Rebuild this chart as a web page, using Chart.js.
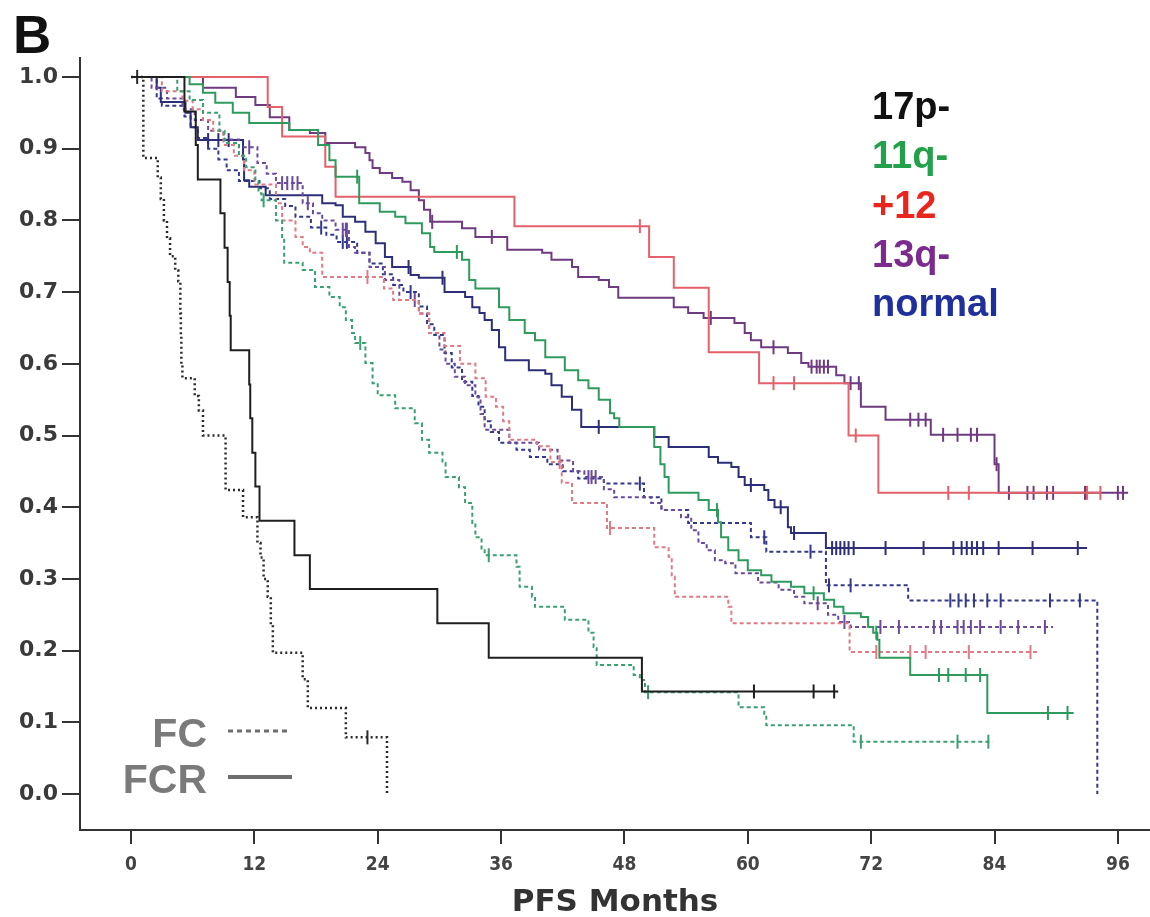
<!DOCTYPE html>
<html lang="en">
<head>
<meta charset="UTF-8">
<title>PFS months by cytogenetic group, FC vs FCR</title>
<script src="https://cdn.jsdelivr.net/npm/chart.js@4"></script>
<style>
  html, body { margin: 0; padding: 0; background: #fff; }
  #wrap { width: 1150px; height: 917px; }
</style>
</head>
<body>
<div id="wrap"><canvas id="km" width="1150" height="917"></canvas></div>
<script>
// axis ticks
const monthTicks = [0, 12, 24, 36, 48, 60, 72, 84, 96];
const survTicks = [0.0, 0.1, 0.2, 0.3, 0.4, 0.5, 0.6, 0.7, 0.8, 0.9, 1.0];

// group key (top right)
const groupNames = ['17p-', '11q-', '+12', '13q-', 'normal'];
const groupTextColors = ['#111111', '#22a04b', '#e8261e', '#7b2a8e', '#1f2f9c'];

// Kaplan-Meier steps: [month, survival after the drop]; censor months
const fc17p = [[0,1],[1.2,0.887],[2.6,0.86],[2.9,0.83],[3.2,0.80],[3.5,0.775],[3.8,0.75],[4.3,0.73],[4.6,0.715],[4.8,0.67],[4.85,0.64],[4.9,0.60],[5.0,0.58],[6.2,0.555],[6.6,0.535],[7.0,0.50],[9.2,0.424],[10.9,0.386],[12.3,0.35],[12.6,0.33],[12.9,0.30],[13.3,0.275],[13.6,0.236],[13.8,0.197],[16.7,0.16],[17.2,0.12],[20.9,0.079],[24.9,0.0]];
const fc17pCens = [0.6, 23.0];

const fcr17p = [[0,1],[5.2,0.952],[6.3,0.905],[6.5,0.857],[8.7,0.81],[9.1,0.762],[9.4,0.714],[9.6,0.667],[9.7,0.619],[11.5,0.571],[11.6,0.524],[11.8,0.476],[12.1,0.429],[12.5,0.381],[15.9,0.333],[17.4,0.286],[29.8,0.238],[34.8,0.19],[49.7,0.143],[68.8,0.143]];
const fcr17pCens = [60.6, 66.4, 68.4];

const fc11q = [[0,1],[4.5,0.98],[5.7,0.968],[7.0,0.95],[8.6,0.925],[9.1,0.908],[10.5,0.89],[11.2,0.874],[12.1,0.855],[12.4,0.838],[12.7,0.828],[14.1,0.80],[14.7,0.773],[14.9,0.741],[16.7,0.731],[17.9,0.707],[19.3,0.693],[20.3,0.679],[20.9,0.661],[21.5,0.643],[21.8,0.629],[22.8,0.601],[23.5,0.573],[24.0,0.556],[25.7,0.538],[27.6,0.517],[28.3,0.494],[29.0,0.476],[30.3,0.462],[30.6,0.442],[31.9,0.428],[32.5,0.406],[33.2,0.378],[33.5,0.358],[34.1,0.34],[34.4,0.333],[37.5,0.317],[37.8,0.289],[39.0,0.275],[39.3,0.261],[42.2,0.243],[44.5,0.225],[45.0,0.205],[45.3,0.18],[48.9,0.166],[49.5,0.159],[50.0,0.142],[59.1,0.121],[61.6,0.11],[61.8,0.096],[70.3,0.073],[83.8,0.073]];
const fc11qCens = [12.9, 22.3, 34.8, 50.3, 71.0, 80.4, 83.4];

const fcr11q = [[0,1],[5.7,0.99],[7.0,0.978],[8.2,0.964],[9.9,0.95],[11.5,0.936],[15.4,0.926],[18.2,0.905],[19.3,0.884],[19.9,0.861],[22.2,0.824],[24.2,0.812],[25.7,0.805],[26.7,0.796],[28.3,0.782],[29.1,0.763],[29.5,0.756],[32.2,0.745],[32.9,0.717],[33.5,0.705],[35.8,0.679],[36.8,0.661],[38.3,0.643],[39.3,0.633],[40.3,0.609],[42.2,0.591],[43.5,0.577],[44.5,0.566],[45.5,0.55],[46.6,0.531],[47.0,0.524],[47.5,0.512],[50.9,0.484],[51.5,0.46],[51.9,0.442],[52.3,0.42],[55.2,0.41],[56.2,0.396],[57.1,0.379],[57.4,0.358],[58.1,0.34],[59.1,0.326],[60.0,0.312],[61.3,0.305],[62.3,0.296],[64.2,0.289],[65.5,0.28],[67.4,0.271],[68.4,0.261],[69.3,0.252],[71.0,0.247],[71.7,0.233],[72.2,0.225],[72.6,0.215],[72.8,0.19],[75.8,0.166],[83.3,0.113],[91.7,0.113]];
const fcr11qCens = [22.0, 31.7, 57.0, 66.4, 72.5, 78.6, 79.5, 81.2, 82.6, 89.2, 91.1];

const fcTri12 = [[0,1],[3,0.98],[5,0.967],[6,0.955],[7,0.94],[8,0.925],[9,0.905],[10,0.89],[11,0.87],[12,0.85],[14.1,0.824],[14.7,0.80],[16.0,0.777],[16.7,0.763],[17.4,0.755],[18.6,0.721],[24.6,0.705],[25.5,0.689],[28.0,0.67],[29.0,0.643],[30.5,0.625],[32.0,0.60],[33.5,0.58],[34.5,0.554],[35.5,0.54],[36.2,0.52],[36.8,0.494],[39.5,0.485],[40.8,0.463],[41.9,0.434],[42.9,0.406],[46.3,0.371],[50.9,0.344],[52.3,0.331],[52.6,0.303],[52.9,0.275],[58.1,0.261],[58.4,0.238],[69.9,0.198],[88.2,0.198]];
const fcTri12Cens = [23.0, 41.7, 46.6, 72.5, 75.8, 77.3, 81.5, 87.5];

const fcrTri12 = [[0,1],[13.3,0.958],[14.7,0.917],[18.9,0.875],[19.9,0.833],[37.3,0.792],[50.4,0.749],[52.8,0.706],[56.2,0.616],[61.1,0.573],[69.8,0.50],[72.7,0.42],[94.3,0.42]];
const fcrTri12Cens = [49.5, 62.5, 64.5, 70.5, 79.5, 81.5, 93.0, 94.3];

const fc13q = [[0,1],[2.0,0.985],[3.5,0.97],[5.0,0.955],[6.2,0.94],[7.5,0.925],[9.0,0.913],[10.5,0.902],[12.3,0.88],[13.2,0.865],[14.1,0.852],[16.7,0.824],[17.7,0.81],[18.6,0.80],[19.9,0.787],[21.2,0.763],[21.8,0.755],[23.2,0.735],[24.7,0.717],[26.1,0.689],[28.0,0.67],[29.0,0.643],[30.0,0.62],[30.6,0.60],[31.5,0.582],[32.5,0.57],[33.5,0.554],[34.0,0.53],[34.4,0.508],[36.8,0.49],[39.7,0.48],[41.5,0.465],[43.0,0.45],[44.1,0.442],[46.0,0.425],[47.0,0.414],[50.6,0.406],[51.6,0.396],[53.5,0.386],[54.5,0.368],[55.2,0.35],[56.0,0.34],[56.8,0.326],[57.8,0.322],[58.8,0.308],[61.0,0.295],[63.0,0.285],[64.5,0.275],[65.5,0.266],[67.8,0.25],[68.8,0.24],[70.0,0.233],[89.7,0.233]];
const fc13qCens = [11.5, 14.7, 15.2, 15.7, 16.2, 17.2, 20.6, 20.9, 21.0, 27.6, 44.5, 44.8, 45.2, 66.8, 69.4, 72.9, 74.7, 78.1, 78.8, 80.4, 81.0, 81.7, 82.6, 84.6, 86.3, 88.9];

const fcr13q = [[0,1],[7.0,0.985],[10.2,0.972],[12.1,0.961],[13.5,0.944],[15.4,0.926],[17.4,0.922],[18.9,0.908],[21.8,0.902],[22.8,0.894],[23.2,0.884],[23.5,0.873],[24.2,0.866],[25.4,0.859],[26.4,0.854],[27.2,0.842],[28.0,0.828],[28.5,0.815],[29.1,0.798],[32.2,0.789],[33.5,0.777],[36.6,0.759],[40.0,0.755],[40.9,0.745],[42.9,0.735],[43.5,0.721],[45.5,0.717],[46.5,0.707],[47.4,0.692],[52.8,0.679],[54.2,0.671],[55.7,0.664],[58.7,0.657],[59.7,0.643],[60.3,0.633],[61.3,0.623],[63.9,0.615],[65.2,0.601],[65.9,0.596],[68.6,0.584],[69.4,0.573],[71.0,0.54],[73.4,0.522],[77.8,0.501],[84.0,0.46],[84.4,0.42],[97.0,0.42]];
const fcr13qCens = [29.3, 35.1, 56.4, 62.5, 66.2, 66.7, 67.0, 67.4, 67.8, 70.0, 70.8, 75.8, 76.6, 77.3, 79.0, 80.4, 81.7, 82.3, 84.2, 85.4, 87.2, 87.8, 89.1, 89.7, 92.8, 96.0, 96.5];

const fcNormal = [[0,1],[2.5,0.97],[3.0,0.96],[5.2,0.945],[5.8,0.93],[6.5,0.915],[7.5,0.90],[8.5,0.885],[9.3,0.87],[10.5,0.855],[12.5,0.845],[13.5,0.83],[15.0,0.82],[16.0,0.805],[17.5,0.79],[19.0,0.78],[20.0,0.77],[22.0,0.755],[23.2,0.74],[24.5,0.725],[25.5,0.71],[26.5,0.70],[28.0,0.68],[28.8,0.655],[29.5,0.64],[30.5,0.615],[31.2,0.595],[32.2,0.575],[33.2,0.555],[33.8,0.54],[34.4,0.52],[35.0,0.505],[35.8,0.49],[37.5,0.48],[38.8,0.47],[40.5,0.46],[42.0,0.45],[43.5,0.44],[46.0,0.433],[49.9,0.414],[51.6,0.396],[54.2,0.378],[60.3,0.358],[61.8,0.338],[67.6,0.291],[75.6,0.27],[94.0,0.0]];
const fcNormalCens = [18.5, 20.6, 21.0, 27.2, 49.5, 61.6, 66.1, 67.9, 70.0, 79.7, 80.5, 81.2, 82.0, 83.3, 84.6, 89.4, 92.3];

const fcrNormal = [[0,1],[2.5,0.985],[2.9,0.965],[5.3,0.95],[5.8,0.93],[6.5,0.912],[10.9,0.885],[11.0,0.856],[11.5,0.847],[13.1,0.835],[18.6,0.824],[19.9,0.821],[20.6,0.805],[21.8,0.798],[22.8,0.784],[23.8,0.768],[24.7,0.749],[25.4,0.735],[27.2,0.724],[28.0,0.72],[30.5,0.70],[32.5,0.693],[33.2,0.679],[33.9,0.671],[34.4,0.661],[35.1,0.647],[35.8,0.623],[36.4,0.605],[38.7,0.591],[40.3,0.586],[40.9,0.57],[41.9,0.554],[42.9,0.536],[43.8,0.512],[50.9,0.498],[52.3,0.484],[56.2,0.47],[57.1,0.462],[58.4,0.456],[59.1,0.442],[59.7,0.431],[61.6,0.424],[62.0,0.41],[62.6,0.40],[63.9,0.372],[64.2,0.364],[67.6,0.343],[93.0,0.343]];
const fcrNormalCens = [7.5, 8.5, 9.5, 27.0, 30.3, 45.5, 60.3, 63.2, 64.5, 68.2, 68.6, 69.0, 69.4, 69.8, 70.3, 73.4, 77.1, 80.0, 80.8, 81.3, 81.8, 82.3, 82.9, 84.4, 87.7, 92.1];

// survival value in force at month t
function survAt(steps, t) {
  let s = steps[0][1];
  for (const p of steps) {
    if (p[0] <= t) s = p[1]; else break;
  }
  return s;
}

function curve(steps, color, dash, width) {
  return {
    data: steps.map(p => ({ x: p[0], y: p[1] })),
    showLine: true,
    stepped: 'before',
    borderColor: color,
    borderWidth: width,
    borderDash: dash,
    pointRadius: 0,
    fill: false
  };
}

function censorMarks(steps, cens, color) {
  return {
    data: cens.map(t => ({ x: t, y: survAt(steps, t) })),
    showLine: false,
    pointStyle: 'line',
    rotation: 90,
    pointRadius: 7,
    pointBorderWidth: 2,
    pointBorderColor: color,
    borderColor: color,
    backgroundColor: color
  };
}

const dotted = [2, 3];
const dashed = [4, 3];

const curves = [
  { steps: fcr17p, cens: fcr17pCens, color: '#1e1e1e', dash: [], width: 2 },
  { steps: fc17p, cens: fc17pCens, color: '#2a2a2a', dash: dotted, width: 2.5 },
  { steps: fcr11q, cens: fcr11qCens, color: '#2f9a5e', dash: [], width: 2 },
  { steps: fc11q, cens: fc11qCens, color: '#3aa070', dash: dashed, width: 2 },
  { steps: fcrTri12, cens: fcrTri12Cens, color: '#e4606a', dash: [], width: 2 },
  { steps: fcTri12, cens: fcTri12Cens, color: '#e07a85', dash: dashed, width: 2 },
  { steps: fcr13q, cens: fcr13qCens, color: '#6e3a80', dash: [], width: 2 },
  { steps: fc13q, cens: fc13qCens, color: '#6a4a9a', dash: dashed, width: 2 },
  { steps: fcrNormal, cens: fcrNormalCens, color: '#2c2f78', dash: [], width: 2 },
  { steps: fcNormal, cens: fcNormalCens, color: '#33388a', dash: dashed, width: 2 }
];

const datasets = [];
curves.forEach(c => {
  datasets.push(curve(c.steps, c.color, c.dash, c.width));
  datasets.push(censorMarks(c.steps, c.cens, c.color));
});

// text that sits inside the plot: panel letter, group key, regimen key
const extraText = {
  id: 'extraText',
  afterDraw(chart) {
    const ctx = chart.ctx;
    ctx.save();
    ctx.textBaseline = 'alphabetic';
    ctx.textAlign = 'left';
    ctx.fillStyle = '#111';
    ctx.font = 'bold 53px "Liberation Sans", Arial, sans-serif';
    ctx.fillText('B', 13, 53);

    ctx.font = 'bold 38px "Liberation Sans", Arial, sans-serif';
    groupNames.forEach((n, i) => {
      ctx.fillStyle = groupTextColors[i];
      ctx.fillText(n, 872, 119 + i * 49.3);
    });

    ctx.fillStyle = '#7a7a7a';
    ctx.textAlign = 'right';
    ctx.font = 'bold 41px "Liberation Sans", Arial, sans-serif';
    ctx.fillText('FC', 207, 747);
    ctx.fillText('FCR', 207, 793);

    ctx.strokeStyle = '#6e6e6e';
    ctx.lineWidth = 3;
    ctx.setLineDash([5, 4]);
    ctx.beginPath();
    ctx.moveTo(228, 731);
    ctx.lineTo(291, 731);
    ctx.stroke();
    ctx.setLineDash([]);
    ctx.lineWidth = 4;
    ctx.beginPath();
    ctx.moveTo(228, 777);
    ctx.lineTo(292, 777);
    ctx.stroke();
    ctx.restore();
  }
};

new Chart(document.getElementById('km'), {
  type: 'scatter',
  data: { datasets: datasets },
  options: {
    responsive: false,
    animation: false,
    devicePixelRatio: 1,
    layout: { autoPadding: false, padding: { top: 58, left: 0, right: 0, bottom: 0 } },
    plugins: { legend: { display: false }, tooltip: { enabled: false } },
    scales: {
      x: {
        type: 'linear',
        min: -4.961,
        max: 99.125,
        afterBuildTicks: s => { s.ticks = monthTicks.map(v => ({ value: v })); },
        afterFit: s => { s.height = 87; },
        grid: { drawOnChartArea: false, drawTicks: true, tickLength: 14, color: '#333', lineWidth: 2 },
        border: { display: true, color: '#333', width: 2 },
        ticks: {
          color: '#444',
          padding: 10,
          maxRotation: 0,
          font: { family: '"DejaVu Sans Condensed", "Liberation Sans Narrow", sans-serif', size: 19, weight: 'bold' }
        },
        title: {
          display: true,
          text: 'PFS Months',
          color: '#333',
          padding: { top: 0, bottom: 0 },
          font: { family: '"DejaVu Sans", sans-serif', size: 31, weight: 'bold', lineHeight: 0.9 }
        }
      },
      y: {
        type: 'linear',
        min: -0.0502,
        max: 1.0265,
        afterBuildTicks: s => { s.ticks = survTicks.map(v => ({ value: v })); },
        afterFit: s => { s.width = 80; },
        grid: { drawOnChartArea: false, drawTicks: true, tickLength: 18, color: '#333', lineWidth: 2 },
        border: { display: true, color: '#333', width: 2 },
        ticks: {
          color: '#3a3a3a',
          padding: 4,
          callback: v => Number(v).toFixed(1),
          font: { family: '"DejaVu Sans", sans-serif', size: 22, weight: 'bold' }
        }
      }
    }
  },
  plugins: [extraText]
});
</script>
</body>
</html>
